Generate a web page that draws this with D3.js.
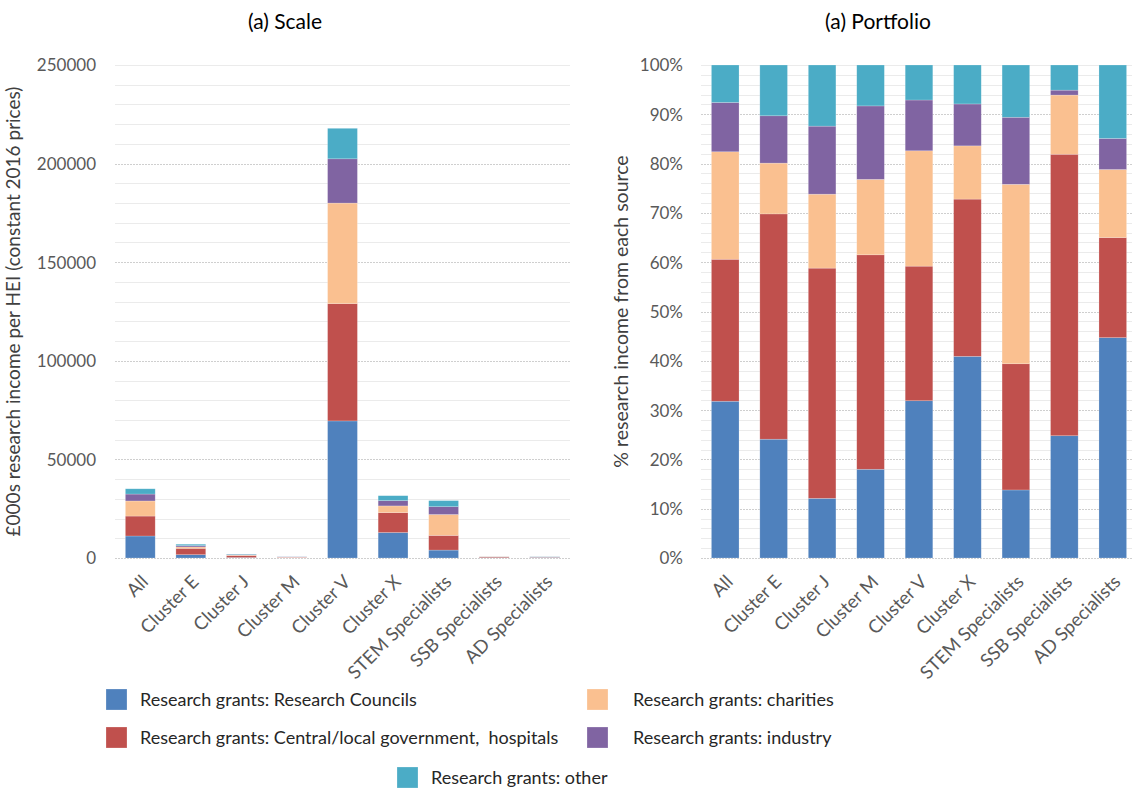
<!DOCTYPE html>
<html>
<head>
<meta charset="utf-8">
<script src="https://cdn.jsdelivr.net/npm/d3@7"></script>
<style>
  html, body { margin: 0; padding: 0; background: #fff; }
  svg { display: block; }
</style>
</head>
<body>
<svg id="chart" width="1132" height="789"></svg>
<script>
// Research income by HEI group, by funding source

const categories = ["All", "Cluster E", "Cluster J", "Cluster M", "Cluster V",
                    "Cluster X", "STEM Specialists", "SSB Specialists", "AD Specialists"];

const seriesNames = [
  "Research grants: Research Councils",
  "Research grants: Central/local government,  hospitals",
  "Research grants: charities",
  "Research grants: industry",
  "Research grants: other"
];

// £000s research income per HEI (constant 2016 prices)
const scaleCouncils = [11160, 1690, 240, 117, 69510, 12920, 4020, 198, 335];
const scaleGovt     = [10110, 3200, 930, 283, 59490, 10080, 7450, 457, 152];
const scaleCharity  = [ 7650,  720, 300,  99, 50990,  3410, 10590, 96, 104];
const scaleIndustry = [ 3510,  670, 280,  97, 22440,  2690, 3960,   8,  47];
const scaleOther    = [ 2670,  720, 250,  54, 15470,  2500, 3080,  41, 112];

// % of research income from each source
const shareCouncils = [31.8, 24.1, 12.1, 18.0, 31.9, 40.9, 13.8, 24.8, 44.7];
const shareGovt     = [28.8, 45.7, 46.7, 43.5, 27.3, 31.9, 25.6, 57.1, 20.3];
const shareCharity  = [21.8, 10.3, 15.0, 15.3, 23.4, 10.8, 36.4, 12.0, 13.8];
const shareIndustry = [10.0,  9.6, 13.8, 14.9, 10.3,  8.5, 13.6,  1.0,  6.3];
const shareOther    = [ 7.6, 10.3, 12.4,  8.3,  7.1,  7.9, 10.6,  5.1, 14.9];

const scaleTicks = [0, 50000, 100000, 150000, 200000, 250000];
const shareTicks = [0, 10, 20, 30, 40, 50, 60, 70, 80, 90, 100];

const colors = ["#4F81BD", "#C0504D", "#FAC090", "#8064A2", "#4BACC6"];

const FONT = "Lato, 'Open Sans', sans-serif";

const svg = d3.select("#chart");

function buildRows(arrays) {
  return categories.map((c, i) => {
    const row = { category: c };
    arrays.forEach((arr, k) => { row["s" + k] = arr[i]; });
    return row;
  });
}

function drawPanel(opts) {
  const { x0, x1, y0, y1, rows, yMax, ticks, minorStep, tickFmt,
          labelRight, title, titleX, yTitle, yTitleX, yTitleSize, padding } = opts;

  const g = svg.append("g");
  const x = d3.scaleBand().domain(categories).range([x0, x1]).paddingInner(padding).paddingOuter(padding / 2);
  const y = d3.scaleLinear().domain([0, yMax]).range([y0, y1]);

  // minor gridlines
  const minor = d3.range(0, yMax + minorStep / 2, minorStep).filter(v => !ticks.includes(v) || v === yMax);
  g.append("g").selectAll("line").data(minor).join("line")
    .attr("x1", x0).attr("x2", x1)
    .attr("y1", d => Math.round(y(d)) + 0.5).attr("y2", d => Math.round(y(d)) + 0.5)
    .attr("stroke", "#ebebeb").attr("stroke-width", 1.2);

  // major gridlines
  g.append("g").selectAll("line").data(ticks.filter(v => v !== yMax)).join("line")
    .attr("x1", x0).attr("x2", x1)
    .attr("y1", d => Math.round(y(d)) + 0.5).attr("y2", d => Math.round(y(d)) + 0.5)
    .attr("stroke", "#cfcfcf").attr("stroke-width", 1.2)
    .attr("stroke-dasharray", "2,1");

  // stacked bars
  const keys = seriesNames.map((_, k) => "s" + k);
  const stacked = d3.stack().keys(keys)(rows);
  g.append("g").selectAll("g").data(stacked).join("g")
    .attr("fill", (d, k) => colors[k])
    .selectAll("rect").data(d => d).join("rect")
    .attr("x", d => x(d.data.category))
    .attr("width", x.bandwidth())
    .attr("y", d => y(d[1]))
    .attr("height", d => Math.max(0, y(d[0]) - y(d[1])))
    .attr("stroke", "rgba(255,255,255,0.35)")
    .attr("stroke-width", 0.6);

  // y axis labels
  const yAxis = d3.axisLeft(y).tickValues(ticks).tickFormat(tickFmt).tickSize(0).tickPadding(0);
  const ya = g.append("g").attr("transform", `translate(${labelRight},0)`).call(yAxis);
  ya.select(".domain").remove();
  ya.selectAll("text")
    .attr("font-family", FONT).attr("font-size", 17).attr("fill", "#595959")
    .attr("dy", "0.35em");

  // x axis labels
  const xAxis = d3.axisBottom(x).tickSize(0).tickPadding(0);
  const xa = g.append("g").attr("transform", `translate(0,${y0})`).call(xAxis);
  xa.select(".domain").remove();
  xa.selectAll("text")
    .attr("font-family", FONT).attr("font-size", 18.5).attr("fill", "#595959")
    .attr("text-anchor", "end")
    .attr("dy", 0).attr("y", 0)
    .attr("transform", "translate(9,25) rotate(-45)");

  // titles
  svg.append("text")
    .attr("x", titleX).attr("y", 29)
    .attr("text-anchor", "middle")
    .attr("font-family", FONT).attr("font-size", 21).attr("fill", "#000")
    .text(title);

  svg.append("text")
    .attr("transform", `translate(${yTitleX},${(y0 + y1) / 2}) rotate(-90)`)
    .attr("text-anchor", "middle")
    .attr("font-family", FONT).attr("font-size", yTitleSize).attr("fill", "#404040")
    .text(yTitle);
}

drawPanel({
  x0: 115, x1: 570, y0: 558, y1: 65,
  rows: buildRows([scaleCouncils, scaleGovt, scaleCharity, scaleIndustry, scaleOther]),
  yMax: 250000, ticks: scaleTicks, minorStep: 10000,
  tickFmt: d => String(d), labelRight: 96,
  title: "(a) Scale", titleX: 285,
  yTitle: "£000s research income per HEI (constant 2016 prices)", yTitleX: 20, yTitleSize: 19,
  padding: 0.41
});

drawPanel({
  x0: 701, x1: 1137, y0: 558, y1: 65,
  rows: buildRows([shareCouncils, shareGovt, shareCharity, shareIndustry, shareOther]),
  yMax: 100, ticks: shareTicks, minorStep: 2,
  tickFmt: d => d + "%", labelRight: 683,
  title: "(a) Portfolio", titleX: 878,
  yTitle: "% research income from each source", yTitleX: 628, yTitleSize: 19.5,
  padding: 0.43
});

// legend
const legendItems = [
  { k: 0, x: 106, y: 689 },
  { k: 1, x: 106, y: 727 },
  { k: 2, x: 587, y: 689 },
  { k: 3, x: 587, y: 727 },
  { k: 4, x: 397, y: 767 }
];
const textOffset = { 0: 34, 1: 34, 2: 46, 3: 46, 4: 34 };
const lg = svg.append("g");
const li = lg.selectAll("g").data(legendItems).join("g")
  .attr("transform", d => `translate(${d.x},${d.y})`);
li.append("rect").attr("width", 21).attr("height", 21)
  .attr("fill", d => colors[d.k])
  .attr("stroke", "rgba(255,255,255,0.4)").attr("stroke-width", 0.6);
li.append("text")
  .attr("x", d => textOffset[d.k]).attr("y", 11)
  .attr("dy", "0.35em")
  .attr("font-family", FONT).attr("font-size", 18).attr("fill", "#262626")
  .style("white-space", "pre")
  .text(d => seriesNames[d.k]);
</script>
</body>
</html>
